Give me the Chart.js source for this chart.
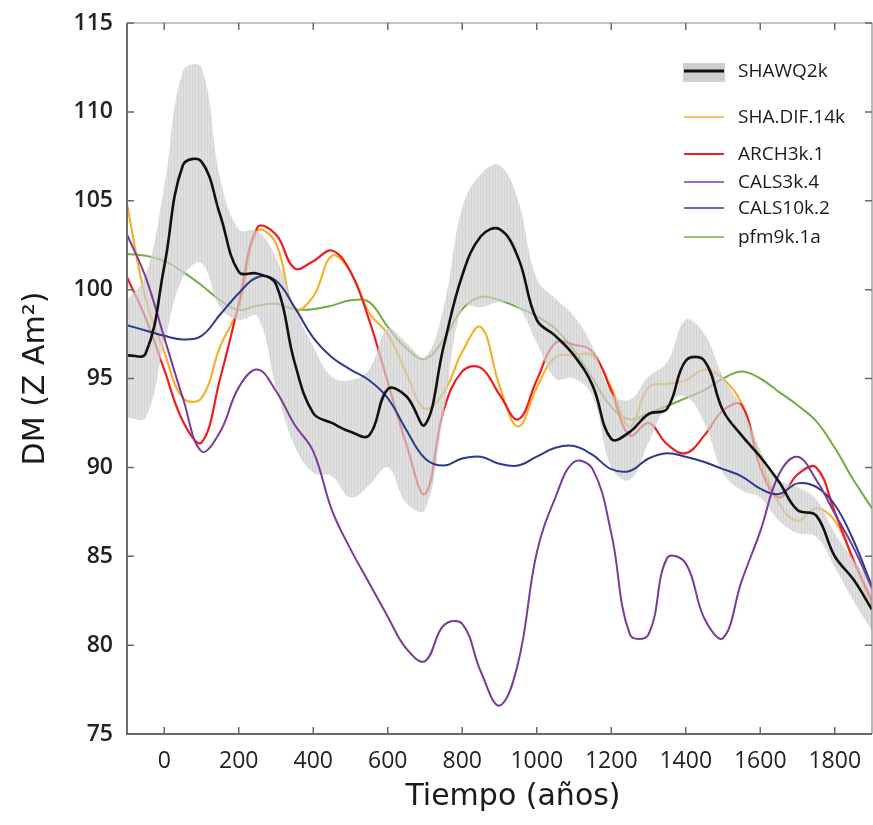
<!DOCTYPE html>
<html>
<head>
<meta charset="utf-8">
<script src="https://cdn.jsdelivr.net/npm/chart.js@4.4.1/dist/chart.umd.min.js"></script>
<style>
  html, body { margin: 0; padding: 0; background: #fff; overflow: hidden; }
  #wrap { width: 873px; height: 825px; position: relative; }
</style>
</head>
<body>
<div id="wrap"><canvas id="dm-chart"></canvas></div>
<script>
// años, cada 50
const years = [-100,-50,0,50,100,150,200,250,300,350,400,450,500,550,600,650,700,750,800,850,900,950,1000,1050,1100,1150,1200,1250,1300,1350,1400,1450,1500,1550,1600,1650,1700,1750,1800,1850,1900];

const shawq2k = [96.3,96.4,101.3,107.0,107.2,104.2,101.0,100.9,100.3,95.9,93.05,92.5,92.0,91.8,94.4,94.0,92.4,96.8,100.8,103.0,103.4,101.8,98.3,97.4,96.3,94.6,91.6,92.0,93.0,93.3,96.0,96.0,93.2,91.8,90.6,89.2,87.6,87.3,85.0,83.7,82.0];
const shawUpper = [99.4,100.8,105.8,112.3,112.5,106.3,103.4,103.3,101.8,99.0,96.8,95.1,94.9,95.5,97.8,97.0,96.2,99.0,104.6,106.5,107.0,105.0,100.6,99.5,98.5,96.8,94.2,93.8,95.1,95.9,98.3,97.5,95.1,93.4,91.0,89.3,88.9,88.2,86.3,84.8,83.5];
const shawLower = [92.8,92.8,97.0,100.7,101.5,99.0,98.3,98.5,94.5,91.2,89.7,89.5,88.3,89.0,90.0,88.0,87.6,93.0,99.0,99.0,99.3,99.0,97.0,95.0,95.0,94.0,90.0,89.3,91.4,93.5,94.0,92.5,89.7,88.7,88.3,87.0,86.3,86.1,84.4,82.5,80.8];
const shaDif14k = [104.8,99.5,96.5,93.9,93.9,96.8,99.0,103.3,102.6,98.9,99.6,101.9,101.0,98.7,97.5,95.3,93.3,94.2,96.5,97.9,94.6,92.3,94.5,96.2,96.3,96.3,94.5,92.3,94.5,94.7,94.9,95.5,95.0,93.6,90.5,88.0,87.0,87.7,87.0,84.8,82.2];
const arch3k1 = [100.7,98.4,95.5,92.6,91.4,95.0,99.2,103.5,103.1,101.2,101.6,102.2,101.0,98.3,94.8,91.3,88.5,93.2,95.4,95.6,94.1,92.7,94.9,97.0,96.9,96.5,94.3,91.8,92.5,91.3,90.8,91.8,93.2,93.5,90.0,88.3,89.6,90.0,87.5,84.8,82.5];
const cals3k4 = [103.1,100.7,97.3,93.9,90.9,92.0,94.5,95.5,94.3,92.4,90.9,87.6,85.4,83.5,81.6,79.8,79.1,81.1,81.2,78.5,76.6,79.0,85.2,88.3,90.3,89.9,86.3,80.6,80.6,84.9,84.6,81.5,80.4,83.6,86.4,89.6,90.6,89.3,87.4,85.5,83.2];
const cals10k2 = [98.0,97.7,97.4,97.2,97.4,98.6,99.8,100.7,100.5,99.0,97.3,96.2,95.5,94.9,93.9,92.1,90.5,90.1,90.5,90.6,90.2,90.1,90.6,91.1,91.2,90.7,89.9,89.8,90.5,90.8,90.6,90.3,89.9,89.5,88.8,88.5,89.1,88.9,87.9,85.9,83.3];
const pfm9k1a = [102.0,101.9,101.6,101.0,100.25,99.4,98.85,99.1,99.2,98.9,98.9,99.1,99.4,99.3,97.9,96.7,96.1,97.2,98.9,99.6,99.4,99.0,98.5,97.8,96.6,95.0,93.4,92.7,93.05,93.45,93.9,94.35,95.0,95.4,95.0,94.25,93.5,92.6,91.1,89.3,87.7];

const xTicks = [0,200,400,600,800,1000,1200,1400,1600,1800];
const yTicks = [75,80,85,90,95,100,105,110,115];

function pts(vals) {
  return vals.map((v, i) => ({ x: years[i], y: v }));
}

// trama gris de barras verticales
function bandPattern() {
  const c = document.createElement("canvas");
  c.width = 3; c.height = 4;
  const g = c.getContext("2d");
  g.fillStyle = "rgba(196,196,196,0.72)";
  g.fillRect(0, 0, 1, 4);
  g.fillStyle = "rgba(210,210,210,0.72)";
  g.fillRect(1, 0, 2, 4);
  return g.createPattern(c, "repeat");
}

const legendItems = [
  { label: "SHAWQ2k", color: "#111", width: 3, y: 71, box: true },
  { label: "SHA.DIF.14k", color: "#f4b12e", width: 1.5, y: 117 },
  { label: "ARCH3k.1", color: "#ee1d23", width: 2, y: 154 },
  { label: "CALS3k.4", color: "#7a3b98", width: 1.5, y: 182 },
  { label: "CALS10k.2", color: "#2e3a8f", width: 1.5, y: 208 },
  { label: "pfm9k.1a", color: "#6fae3f", width: 1.5, y: 237 }
];

const framePlugin = {
  id: "frame",
  afterDraw(chart) {
    const { ctx, chartArea: a, scales } = chart;
    ctx.save();
    // marco
    ctx.strokeStyle = "#8a8a8a";
    ctx.lineWidth = 1.2;
    ctx.beginPath();
    ctx.moveTo(a.left, a.top); ctx.lineTo(a.right, a.top); ctx.lineTo(a.right, a.bottom);
    ctx.stroke();
    ctx.strokeStyle = "#6a6a6a";
    ctx.lineWidth = 2;
    ctx.beginPath();
    ctx.moveTo(a.left, a.top); ctx.lineTo(a.left, a.bottom); ctx.lineTo(a.right, a.bottom);
    ctx.stroke();
    // marcas hacia dentro
    ctx.lineWidth = 1.5;
    xTicks.forEach(t => {
      const x = scales.x.getPixelForValue(t);
      ctx.beginPath();
      ctx.moveTo(x, a.bottom); ctx.lineTo(x, a.bottom - 7);
      ctx.moveTo(x, a.top); ctx.lineTo(x, a.top + 7);
      ctx.stroke();
    });
    yTicks.forEach(t => {
      const y = scales.y.getPixelForValue(t);
      ctx.beginPath();
      ctx.moveTo(a.left, y); ctx.lineTo(a.left + 7, y);
      ctx.moveTo(a.right, y); ctx.lineTo(a.right - 7, y);
      ctx.stroke();
    });
    // leyenda
    legendItems.forEach(it => {
      if (it.box) {
        ctx.fillStyle = "#cfcfcf";
        ctx.fillRect(683, it.y - 8, 42, 19);
      }
      ctx.strokeStyle = it.color;
      ctx.lineWidth = it.width;
      ctx.beginPath();
      ctx.moveTo(684, it.y); ctx.lineTo(724, it.y);
      ctx.stroke();
      ctx.fillStyle = "#1a1a1a";
      ctx.font = "19px 'Open Sans'";
      ctx.textBaseline = "middle";
      ctx.textAlign = "left";
      ctx.fillText(it.label, 738, it.y + 1);
    });
    // títulos de ejes
    ctx.fillStyle = "#1a1a1a";
    ctx.font = "30px 'DejaVu Sans'";
    ctx.textAlign = "center";
    ctx.textBaseline = "middle";
    ctx.fillText("Tiempo (años)", 513, 797);
    ctx.translate(36, (a.top + a.bottom) / 2);
    ctx.rotate(-Math.PI / 2);
    ctx.fillText("DM (Z Am²)", 0, 0);
    ctx.restore();
  }
};

const line = (label, data, color, width, order) => ({
  label, data: pts(data), borderColor: color, borderWidth: width,
  pointRadius: 0, fill: false, order, tension: 0.4
});

const bandPat = bandPattern();

new Chart(document.getElementById("dm-chart"), {
  type: "line",
  data: {
    datasets: [
      line("SHAWQ2k", shawq2k, "#111111", 2.6, 0),
      line("CALS3k.4", cals3k4, "#7a3b98", 2, 1),
      line("CALS10k.2", cals10k2, "#2e3a8f", 2, 2),
      { label: "upper", data: pts(shawUpper), borderWidth: 0, borderColor: "rgba(0,0,0,0)",
        backgroundColor: bandPat, fill: "+1", pointRadius: 0, order: 3, tension: 0.4 },
      { label: "lower", data: pts(shawLower), borderWidth: 0, borderColor: "rgba(0,0,0,0)",
        pointRadius: 0, fill: false, order: 3, tension: 0.4 },
      line("ARCH3k.1", arch3k1, "#ee1d23", 2.2, 4),
      line("SHA.DIF.14k", shaDif14k, "#f4b12e", 2.2, 5),
      line("pfm9k.1a", pfm9k1a, "#6fae3f", 2, 6)
    ]
  },
  options: {
    responsive: true,
    maintainAspectRatio: false,
    animation: false,
    layout: { padding: { top: 23, right: 1, left: 0, bottom: 0 } },
    plugins: {
      legend: { display: false },
      tooltip: { enabled: false }
    },
    scales: {
      x: {
        type: "linear",
        min: -100, max: 1900,
        afterBuildTicks: s => { s.ticks = xTicks.map(v => ({ value: v })); },
        afterFit: s => { s.height = 91; s.paddingLeft = 0; s.paddingRight = 0; },
        grid: { display: false, drawTicks: false },
        border: { display: false },
        ticks: { color: "#222", padding: 14, maxRotation: 0, autoSkip: false,
                 callback: v => String(v),
                 font: { family: "'Open Sans'", size: 23, weight: 500 } }
      },
      y: {
        min: 75, max: 115,
        afterBuildTicks: s => { s.ticks = yTicks.map(v => ({ value: v })); },
        afterFit: s => { s.width = 127; s.paddingTop = 0; s.paddingBottom = 0; },
        grid: { display: false, drawTicks: false },
        border: { display: false },
        ticks: { color: "#222", padding: 14, callback: v => String(v),
                 font: { family: "'Open Sans'", size: 23, weight: 600 } }
      }
    }
  },
  plugins: [framePlugin]
});
</script>
</body>
</html>
